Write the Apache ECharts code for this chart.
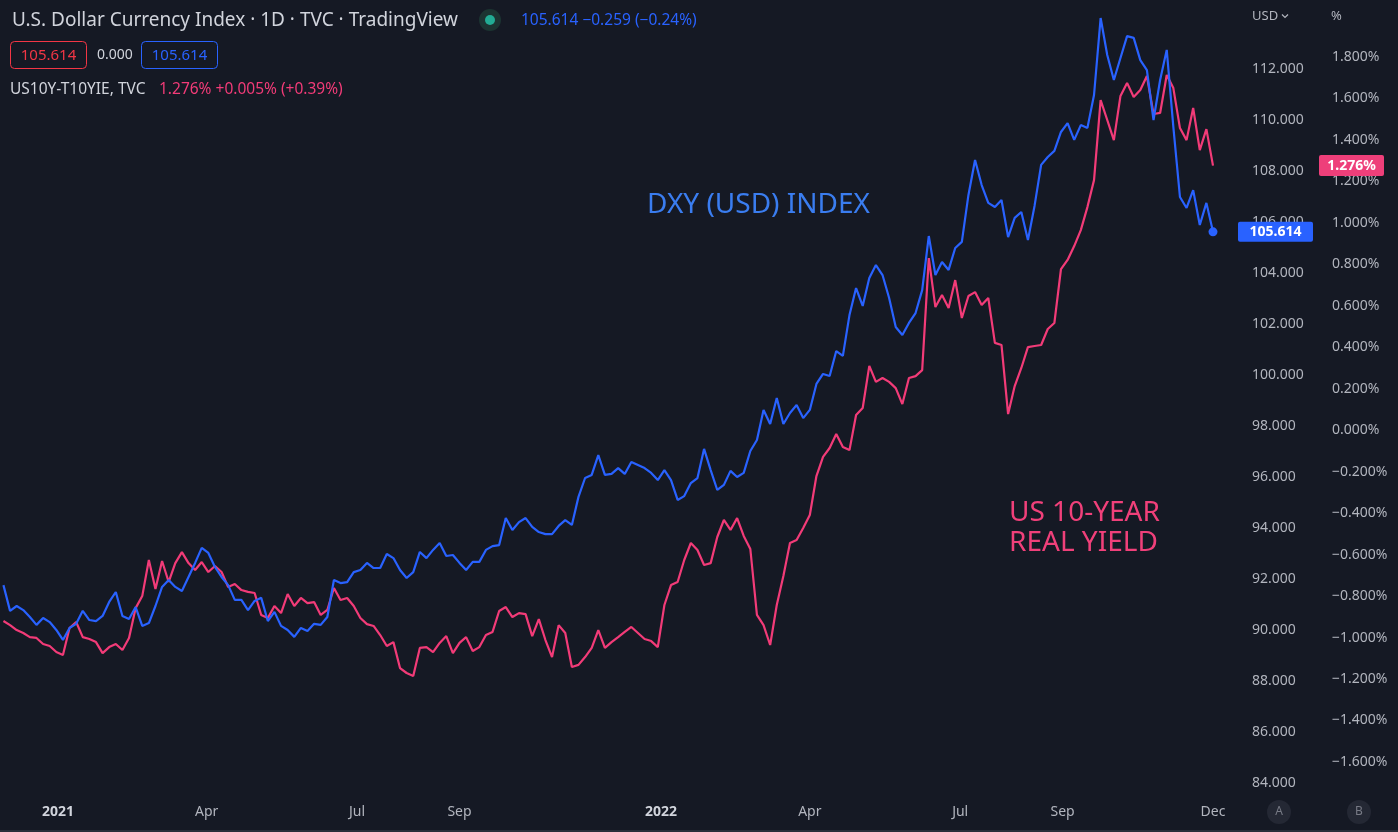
<!DOCTYPE html>
<html>
<head>
<meta charset="utf-8">
<script src="https://cdn.jsdelivr.net/npm/echarts@6/dist/echarts.min.js"></script>
<style>
html,body{margin:0;padding:0;background:#151924;}
#chart{width:1398px;height:832px;}
</style>
</head>
<body>
<div id="chart"></div>
<script>
// ---- data (sampled every 4 calendar days, 2020-11-29 .. 2022-12-01) ----
const startDate = '2020-11-29';
const stepDays = 4;

const dxyValues = [
91.76,90.75,90.94,90.78,90.51,90.20,90.47,90.31,90.00,89.61,
90.08,90.24,90.75,90.39,90.35,90.55,91.10,91.49,90.55,90.43,
90.90,90.16,90.27,90.94,91.69,91.96,91.69,91.53,92.08,92.63,
93.22,93.02,92.47,92.08,91.76,91.18,91.18,90.78,91.14,91.26,
90.35,90.71,90.16,90.00,89.73,90.08,89.96,90.24,90.20,90.51,
91.96,91.84,91.88,92.27,92.35,92.63,92.43,92.43,92.98,92.82,
92.35,92.04,92.27,93.06,92.82,93.14,93.41,92.90,92.94,92.63,
92.35,92.67,92.67,93.14,93.29,93.33,94.39,93.92,94.23,94.39,
94.04,93.84,93.76,93.76,94.08,94.31,94.12,95.22,95.96,96.08,
96.86,96.08,96.12,96.35,96.12,96.59,96.47,96.35,96.16,95.88,
96.27,95.88,95.10,95.25,95.76,95.96,97.10,96.27,95.49,95.69,
96.24,96.00,96.16,97.02,97.45,98.63,98.08,99.10,98.08,98.51,
98.82,98.31,98.63,99.65,100.04,99.96,100.94,100.75,102.35,103.41,
102.71,103.80,104.31,103.92,103.02,101.88,101.57,102.04,102.43,103.33,
105.45,103.92,104.43,104.12,104.98,105.22,107.06,108.43,107.45,106.75,
106.59,106.86,105.41,106.16,106.39,105.29,106.63,108.24,108.55,108.79,
109.53,109.88,109.22,109.80,109.69,110.98,114.00,112.55,111.57,112.43,
113.29,113.22,112.35,111.96,110.00,111.57,112.75,109.73,106.98,106.55,
107.25,105.88,106.75,105.614
];

const realYieldValues = [
-0.920,-0.940,-0.964,-0.978,-0.998,-1.002,-1.031,-1.041,-1.070,-1.084,
-0.954,-0.925,-0.998,-1.007,-1.022,-1.075,-1.046,-1.031,-1.060,-1.002,
-0.858,-0.800,-0.626,-0.766,-0.631,-0.732,-0.641,-0.588,-0.641,-0.674,
-0.636,-0.684,-0.655,-0.684,-0.756,-0.742,-0.771,-0.780,-0.785,-0.891,
-0.906,-0.848,-0.882,-0.790,-0.848,-0.809,-0.834,-0.829,-0.891,-0.867,
-0.761,-0.819,-0.809,-0.848,-0.906,-0.935,-0.944,-0.988,-1.041,-1.022,
-1.147,-1.171,-1.185,-1.050,-1.046,-1.070,-1.026,-0.993,-1.075,-1.026,
-0.998,-1.065,-1.046,-0.988,-0.973,-0.872,-0.853,-0.901,-0.882,-0.887,
-0.993,-0.911,-1.012,-1.094,-0.940,-0.978,-1.142,-1.132,-1.094,-1.050,
-0.964,-1.050,-1.022,-0.998,-0.973,-0.949,-0.978,-1.007,-1.017,-1.046,
-0.843,-0.747,-0.732,-0.626,-0.544,-0.578,-0.650,-0.641,-0.515,-0.433,
-0.481,-0.424,-0.510,-0.573,-0.891,-0.940,-1.036,-0.843,-0.703,-0.544,
-0.530,-0.472,-0.409,-0.221,-0.129,-0.086,-0.018,-0.081,-0.096,0.073,
0.107,0.310,0.233,0.252,0.233,0.203,0.126,0.252,0.261,0.290,
0.830,0.594,0.652,0.589,0.724,0.541,0.647,0.666,0.604,0.638,
0.421,0.411,0.078,0.213,0.300,0.401,0.406,0.411,0.488,0.517,
0.777,0.821,0.888,0.965,1.076,1.206,1.592,1.496,1.399,1.612,
1.675,1.607,1.641,1.708,1.525,1.530,1.713,1.650,1.457,1.399,
1.554,1.351,1.452,1.276
];

const xTickDates  = ['2021-01-01','2021-04-01','2021-07-01','2021-09-01','2022-01-01','2022-04-01','2022-07-01','2022-09-01','2022-12-01'];
const xTickLabels = ['2021','Apr','Jul','Sep','2022','Apr','Jul','Sep','Dec'];
const dxyTicks   = [84,86,88,90,92,94,96,98,100,102,104,106,108,110,112];
const yieldTicks = [-1.6,-1.4,-1.2,-1.0,-0.8,-0.6,-0.4,-0.2,0,0.2,0.4,0.6,0.8,1.0,1.2,1.4,1.6,1.8];

// ---- build ----
const DAY = 86400000;
const t0 = new Date(startDate + 'T00:00:00Z').getTime();
const times = dxyValues.map((_, i) => t0 + i * stepDays * DAY);
const dxyData = dxyValues.map((v, i) => [times[i], v]);
const yieldData = realYieldValues.map((v, i) => [times[i], v]);
const xTickTimes = xTickDates.map(d => new Date(d + 'T00:00:00Z').getTime());

const BLUE = '#2962ff';
const PINK = '#f23b78';
const AXIS_TXT = '#b2b5be';
const FONT = '"Noto Sans", "Liberation Sans", sans-serif';

function fmtPct(v) {
  const s = Math.abs(v).toFixed(3) + '%';
  return (v < -1e-9 ? '\u2212' : '') + s;
}

const chart = echarts.init(document.getElementById('chart'), null, {renderer: 'canvas'});

const option = {
  backgroundColor: '#151924',
  animation: false,
  textStyle: {fontFamily: FONT},
  grid: {left: 0, right: 166, top: 0, bottom: 35, containLabel: false},
  xAxis: {
    type: 'value',
    min: Date.UTC(2020, 10, 26, 22),
    max: Date.UTC(2022, 11, 12, 12),
    axisLine: {show: false},
    axisTick: {show: false},
    splitLine: {show: false},
    axisLabel: {
      customValues: xTickTimes,
      margin: 8,
      color: AXIS_TXT,
      fontSize: 14,
      fontFamily: FONT,
      hideOverlap: false,
      formatter: function (value) {
        let k = 0, best = Infinity;
        xTickTimes.forEach((t, j) => { const d = Math.abs(t - value); if (d < best) { best = d; k = j; } });
        const lab = xTickLabels[k];
        return /^\d{4}$/.test(lab) ? '{y|' + lab + '}' : lab;
      },
      rich: {y: {fontWeight: 'bold', color: '#d1d4dc', fontSize: 14, fontFamily: FONT}}
    }
  },
  yAxis: [
    {
      type: 'value',
      position: 'right',
      min: 83.45,
      max: 114.706,
      axisLine: {show: false},
      axisTick: {show: false},
      splitLine: {show: false},
      axisLabel: {
        customValues: dxyTicks,
        margin: 20,
        color: AXIS_TXT,
        fontSize: 14,
        fontFamily: FONT,
        align: 'left',
        formatter: v => Number(v).toFixed(3)
      }
    },
    {
      type: 'value',
      position: 'right',
      min: -1.769,
      max: 2.0747,
      axisLine: {show: false},
      axisTick: {show: false},
      splitLine: {show: false},
      axisLabel: {
        customValues: yieldTicks,
        margin: 100,
        color: AXIS_TXT,
        fontSize: 14,
        fontFamily: FONT,
        align: 'left',
        formatter: v => fmtPct(Number(v))
      }
    }
  ],
  series: [
    {
      name: 'US10Y-T10YIE',
      type: 'line',
      yAxisIndex: 1,
      data: yieldData,
      showSymbol: false,
      lineStyle: {color: PINK, width: 2.2},
      z: 2
    },
    {
      name: 'DXY',
      type: 'line',
      yAxisIndex: 0,
      data: dxyData,
      showSymbol: false,
      lineStyle: {color: BLUE, width: 2.2},
      z: 3,
      markPoint: {
        symbol: 'circle',
        symbolSize: 9,
        itemStyle: {color: BLUE},
        label: {show: false},
        data: [{coord: dxyData[dxyData.length - 1]}]
      }
    }
  ]
};
chart.setOption(option);

// ---- overlay texts & price tags ----
const lastDxy = dxyValues[dxyValues.length - 1];
const lastYield = realYieldValues[realYieldValues.length - 1];
const yBlue = chart.convertToPixel({yAxisIndex: 0}, lastDxy);
const yPink = chart.convertToPixel({yAxisIndex: 1}, lastYield);

function txt(text, x, y, size, color, extra) {
  return {
    type: 'text', z: 100,
    style: Object.assign({text: text, x: x, y: y, fill: color, fontSize: size, fontFamily: FONT, verticalAlign: 'middle', align: 'left'}, extra || {})
  };
}

const graphics = [
  txt('U.S. Dollar Currency Index \u00b7 1D \u00b7 TVC \u00b7 TradingView', 12, 21, 19, '#d1d4dc'),
  {type: 'circle', z: 100, shape: {cx: 490, cy: 20, r: 11}, style: {fill: '#1c3432'}},
  {type: 'circle', z: 101, shape: {cx: 490, cy: 20, r: 5}, style: {fill: '#22ab94'}},
  txt('105.614 \u22120.259 (\u22120.24%)', 521, 21, 15.5, BLUE),
  {type: 'rect', z: 100, shape: {x: 10.5, y: 41.5, width: 76, height: 27, r: 4}, style: {fill: 'none', stroke: '#f23645', lineWidth: 1}},
  txt('105.614', 48.5, 55.5, 15, '#f23645', {align: 'center'}),
  txt('0.000', 97, 55.5, 14, '#d1d4dc'),
  {type: 'rect', z: 100, shape: {x: 141.5, y: 41.5, width: 76, height: 27, r: 4}, style: {fill: 'none', stroke: BLUE, lineWidth: 1}},
  txt('105.614', 179.5, 55.5, 15, BLUE, {align: 'center'}),
  txt('US10Y-T10YIE, TVC', 10, 90, 15.5, '#d1d4dc'),
  txt('1.276% +0.005% (+0.39%)', 159, 90, 15.5, PINK),

  txt('DXY (USD) INDEX', 647, 205, 28, '#3a7df0'),
  txt('US 10-YEAR', 1009, 513, 28, '#f0407a'),
  txt('REAL YIELD', 1009, 543, 28, '#f0407a'),

  txt('USD', 1252, 16, 13, AXIS_TXT),
  {type: 'polyline', z: 100, shape: {points: [[1282, 14.5], [1285, 17.5], [1288, 14.5]]}, style: {stroke: AXIS_TXT, lineWidth: 1.2, fill: 'none'}},
  txt('%', 1331, 16, 13, AXIS_TXT),

  {type: 'rect', z: 110, shape: {x: 1238, y: yBlue - 10, width: 75, height: 20, r: 2}, style: {fill: BLUE}},
  txt('105.614', 1275.5, yBlue, 14, '#ffffff', {align: 'center', fontWeight: 'bold'}),
  {type: 'rect', z: 110, shape: {x: 1319, y: yPink - 10.5, width: 65, height: 21, r: 2}, style: {fill: '#ee3f7a'}},
  txt('1.276%', 1351.5, yPink, 14, '#ffffff', {align: 'center', fontWeight: 'bold'}),

  {type: 'circle', z: 100, shape: {cx: 1279, cy: 812, r: 12}, style: {fill: '#242834'}},
  txt('A', 1279, 812, 12, '#787b86', {align: 'center'}),
  {type: 'circle', z: 100, shape: {cx: 1359, cy: 812, r: 12}, style: {fill: '#242834'}},
  txt('B', 1359, 812, 12, '#787b86', {align: 'center'}),
  {type: 'line', z: 100, shape: {x1: 0, y1: 831, x2: 1398, y2: 831}, style: {stroke: '#2a2e39', lineWidth: 2}}
];
graphics.forEach(g => { if (g.type === 'text') g.z = 111; });
chart.setOption({graphic: graphics});
</script>
</body>
</html>
